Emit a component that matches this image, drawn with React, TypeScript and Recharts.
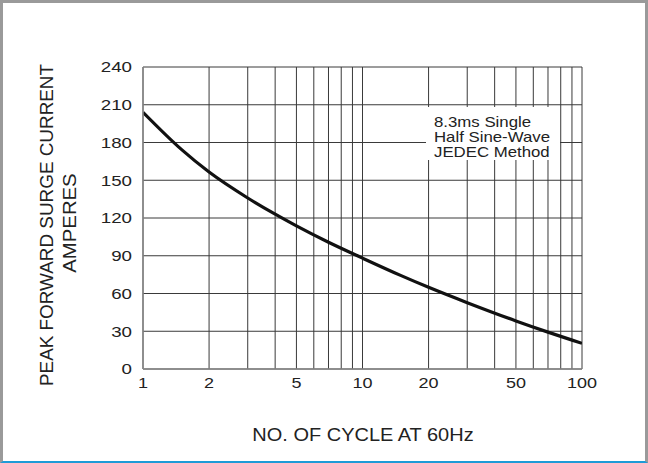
import { CartesianGrid, Line, LineChart, XAxis, YAxis } from 'recharts';

const cycles = [1, 1.5, 2, 3, 4, 5, 7, 10, 15, 20, 30, 50, 70, 100];
const current = [204, 174.3, 156.5, 135.9, 123, 113.7, 100.7, 88.1, 74.2, 64.9, 52.7, 38.2, 29.3, 20.4];

const xGridTicks = [1, 2, 3, 4, 5, 6, 7, 8, 9, 10, 20, 30, 40, 50, 60, 70, 80, 90, 100];
const xLabelTicks = [1, 2, 5, 10, 20, 50, 100];
const yTicks = [0, 30, 60, 90, 120, 150, 180, 210, 240];

const legendLines = ['8.3ms Single', 'Half Sine-Wave', 'JEDEC Method'];
const yTitle = 'PEAK FORWARD SURGE CURRENT';
const yUnit = 'AMPERES';
const xTitle = 'NO. OF CYCLE AT 60Hz';

const data = cycles.map((c, i) => ({ x: c, y: current[i] }));

const FONT = '"Liberation Sans", Arial, sans-serif';
const INK = '#222';

function YTick(props: any) {
  const { x, y, payload } = props;
  return (
    <text
      transform={`translate(${x},${y}) scale(1.25,1)`}
      textAnchor="end"
      dy="0.36em"
      fontSize={15}
      fontFamily={FONT}
      fill={INK}
    >
      {payload.value}
    </text>
  );
}

function XTick(props: any) {
  const { x, y, payload } = props;
  if (!xLabelTicks.includes(payload.value)) return <g />;
  return (
    <text
      transform={`translate(${x},${y + 11}) scale(1.2,1)`}
      textAnchor="middle"
      fontSize={15}
      fontFamily={FONT}
      fill={INK}
    >
      {payload.value}
    </text>
  );
}

export default function App() {
  return (
    <div style={{ position: 'fixed', left: 0, top: 0, width: 648, height: 463, background: '#fff' }}>
      <LineChart
        width={648}
        height={463}
        data={data}
        margin={{ top: 67, right: 66, bottom: 0, left: 0 }}
      >
        <CartesianGrid stroke="#3a3a3a" strokeWidth={1} />
        <XAxis
          dataKey="x"
          type="number"
          scale="log"
          domain={[1, 100]}
          ticks={xGridTicks}
          interval={0}
          allowDataOverflow
          tickLine={false}
          tickSize={0}
          tickMargin={8}
          axisLine={{ stroke: '#8a8a8a', strokeWidth: 1.5 }}
          tick={<XTick />}
          height={94}
        />
        <YAxis
          type="number"
          domain={[0, 240]}
          ticks={yTicks}
          interval={0}
          width={143}
          tickLine={false}
          tickSize={0}
          tickMargin={11}
          axisLine={{ stroke: '#8a8a8a', strokeWidth: 1.5 }}
          tick={<YTick />}
        />
        <Line
          type="monotone"
          dataKey="y"
          stroke="#111"
          strokeWidth={3.2}
          dot={false}
          isAnimationActive={false}
        />
      </LineChart>
      <svg
        width={648}
        height={463}
        style={{ position: 'absolute', left: 0, top: 0, pointerEvents: 'none' }}
      >
        <rect x={426} y={107} width={134} height={53} fill="#fff" />
        {legendLines.map((t, i) => (
          <text
            key={t}
            transform={`translate(434,${126.5 + i * 15}) scale(1.2,1)`}
            fontSize={14}
            fontFamily={FONT}
            fill={INK}
          >
            {t}
          </text>
        ))}
        <text
          transform="translate(53,225) rotate(-90) scale(1.05,1)"
          textAnchor="middle"
          fontSize={18}
          fontFamily={FONT}
          fill={INK}
        >
          {yTitle}
        </text>
        <text
          transform="translate(76,223) rotate(-90) scale(1.13,1)"
          textAnchor="middle"
          fontSize={18}
          fontFamily={FONT}
          fill={INK}
        >
          {yUnit}
        </text>
        <text
          transform="translate(363,440.5) scale(1.08,1)"
          textAnchor="middle"
          fontSize={18.5}
          fontFamily={FONT}
          fill={INK}
        >
          {xTitle}
        </text>
      </svg>
      <div
        style={{
          position: 'absolute',
          inset: 0,
          boxSizing: 'border-box',
          borderTop: '3px solid #9a9a9a',
          borderLeft: '3px solid #9a9a9a',
          borderRight: '3px solid #9a9a9a',
          borderBottom: '2px solid #1e9bd7',
          pointerEvents: 'none',
        }}
      />
    </div>
  );
}
